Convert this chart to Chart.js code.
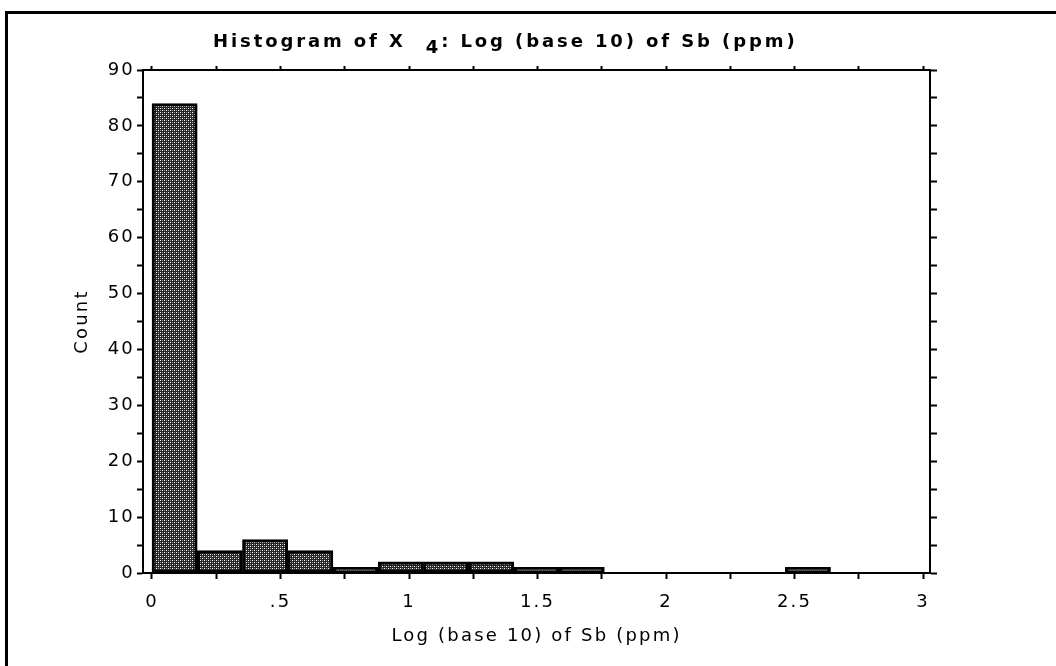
<!DOCTYPE html>
<html><head><meta charset="utf-8">
<script src="https://cdn.jsdelivr.net/npm/chart.js@4.4.1/dist/chart.umd.min.js"></script>
<style>html,body{margin:0;padding:0;background:#fff;} canvas{display:block;}</style>
</head><body>
<canvas id="c" width="1056" height="666"></canvas>
<script>
// ---- data ----
const binCenters = [0.088, 0.264, 0.44, 0.616, 0.792, 0.968, 1.144, 1.32, 1.496, 1.672, 1.848, 2.024, 2.2, 2.376, 2.552];
const counts     = [84, 4, 6, 4, 1, 2, 2, 2, 1, 1, 0, 0, 0, 0, 1];
const xTickLabels = ['0', '.5', '1', '1.5', '2', '2.5', '3'];
const yTickLabels = ['0', '10', '20', '30', '40', '50', '60', '70', '80', '90'];
const titleMain = 'Histogram of X';
const titleSub = '4';
const titleRest = ': Log (base 10) of Sb (ppm)';
const xTitle = 'Log (base 10) of Sb (ppm)';
const yTitle = 'Count';

// ---- texture fill ----
function makePattern() {
  const p = document.createElement('canvas');
  p.width = 4; p.height = 4;
  const g = p.getContext('2d');
  g.fillStyle = '#262626'; g.fillRect(0, 0, 4, 4);
  g.fillStyle = '#ffffff'; g.fillRect(0, 0, 1, 1); g.fillRect(2, 2, 1, 1);
  g.fillStyle = '#9a9a9a'; g.fillRect(2, 0, 1, 1); g.fillRect(0, 2, 1, 1);
  return document.getElementById('c').getContext('2d').createPattern(p, 'repeat');
}

const FONT = 'DejaVu Sans';
const ctx = document.getElementById('c').getContext('2d');

const framePlugin = {
  id: 'frame',
  beforeDraw(chart) {
    const c = chart.ctx;
    c.save();
    c.fillStyle = '#fff';
    c.fillRect(0, 0, chart.width, chart.height);
    c.fillStyle = '#000';
    c.fillRect(5, 11, chart.width - 5, 3);
    c.fillRect(5, 11, 3, chart.height - 11);
    c.restore();
    c.letterSpacing = '2.2px';
  },
  afterDraw(chart) {
    const c = chart.ctx;
    c.save();
    c.fillStyle = '#000';
    c.textBaseline = 'alphabetic';
    c.textAlign = 'left';
    c.letterSpacing = '2.9px';
    c.font = 'bold 18px "' + FONT + '"';
    let x = 213;
    const y = 47;
    c.fillText(titleMain, x, y);
    x += c.measureText(titleMain).width + 20;
    c.fillText(titleSub, x, y + 6);
    x += c.measureText(titleSub).width;
    c.fillText(titleRest, x, y);
    c.restore();
  }
};

function xLabel(v) {
  const k = Math.round(v * 2);
  if (Math.abs(v * 2 - k) < 1e-6 && k >= 0 && k < xTickLabels.length) return xTickLabels[k];
  return '';
}
function yLabel(v) {
  const k = Math.round(v / 10);
  if (Math.abs(v / 10 - k) < 1e-6 && k >= 0 && k < yTickLabels.length) return yTickLabels[k];
  return '';
}

const XMIN = -0.035, XMAX = 3.027;
const axisBorder = { display: true, color: '#000', width: 2 };

new Chart(ctx, {
  type: 'bar',
  data: {
    datasets: [{
      data: binCenters.map((x, i) => ({ x: x, y: counts[i] })),
      backgroundColor: makePattern(),
      borderColor: '#000',
      borderWidth: 3,
      borderSkipped: false,
      barPercentage: 1,
      categoryPercentage: 1,
      xAxisID: 'x',
      yAxisID: 'y'
    }]
  },
  options: {
    responsive: false,
    animation: false,
    events: [],
    layout: { padding: { left: 70, right: 0, top: 0, bottom: 19 } },
    plugins: { legend: { display: false }, title: { display: false }, tooltip: { enabled: false } },
    scales: {
      x: {
        type: 'linear', position: 'bottom', min: XMIN, max: XMAX, offset: false,
        border: axisBorder,
        grid: { offset: false, drawOnChartArea: false, drawTicks: true, tickLength: 6, tickWidth: 2, tickColor: '#000' },
        ticks: { stepSize: 0.25, includeBounds: false, autoSkip: false, maxRotation: 0, padding: 13,
                 color: '#000', font: { family: FONT, size: 18 }, callback: xLabel },
        title: { display: true, text: xTitle, color: '#000', font: { family: FONT, size: 18 }, padding: { top: 0, bottom: 0 } },
        afterFit(s) { s.height = 74; }
      },
      x2: {
        type: 'linear', position: 'top', min: XMIN, max: XMAX, offset: false,
        border: axisBorder,
        grid: { offset: false, drawOnChartArea: false, drawTicks: true, tickLength: 4, tickWidth: 2, tickColor: '#000' },
        ticks: { stepSize: 0.25, includeBounds: false, autoSkip: false, display: true, callback: () => '' , font: { size: 1 } },
        afterFit(s) { s.height = 70; }
      },
      y: {
        type: 'linear', position: 'left', min: 0, max: 90,
        border: axisBorder,
        grid: { drawOnChartArea: false, drawTicks: true, tickLength: 6, tickWidth: 2, tickColor: '#000' },
        ticks: { stepSize: 5, includeBounds: false, autoSkip: false, padding: 2,
                 color: '#000', font: { family: FONT, size: 18 }, callback: yLabel },
        title: { display: true, text: yTitle, color: '#000', font: { family: FONT, size: 18 }, padding: { top: 2, bottom: 0 } },
        afterFit(s) { s.width = 73; }
      },
      y2: {
        type: 'linear', position: 'right', min: 0, max: 90,
        border: axisBorder,
        grid: { drawOnChartArea: false, drawTicks: true, tickLength: 7, tickWidth: 2, tickColor: '#000' },
        ticks: { stepSize: 5, includeBounds: false, autoSkip: false, display: true, callback: () => '', font: { size: 1 } },
        afterFit(s) { s.width = 126; }
      }
    }
  },
  plugins: [framePlugin]
});
</script>
</body></html>
